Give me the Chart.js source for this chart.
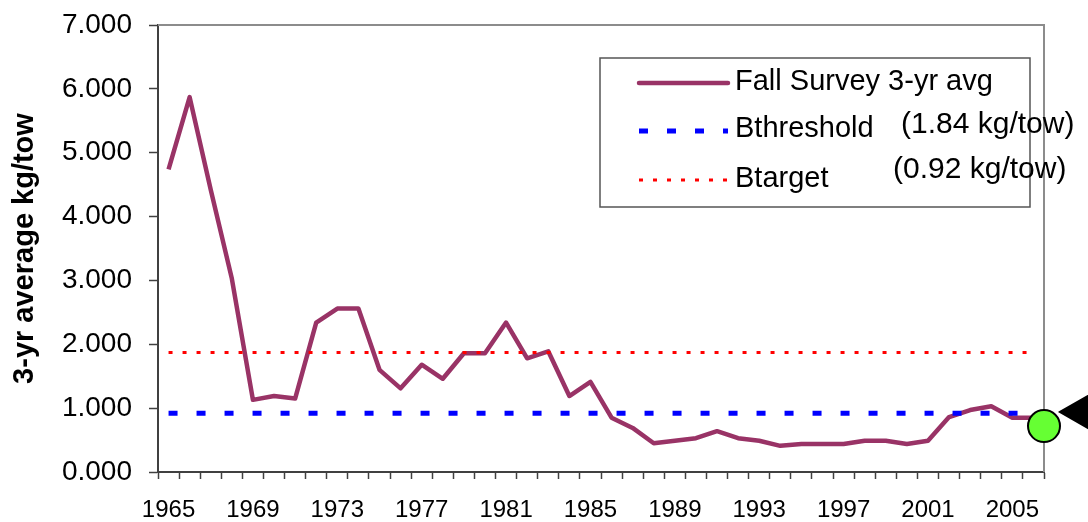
<!DOCTYPE html>
<html>
<head>
<meta charset="utf-8">
<script src="https://cdn.jsdelivr.net/npm/chart.js@4/dist/chart.umd.min.js"></script>
<style>
    html, body { margin: 0; padding: 0; background: #ffffff; }
    #wrap { position: relative; width: 1088px; height: 522px; }
</style>
</head>
<body>
<div id="wrap"><canvas id="surveyChart"></canvas></div>
<script>
const years = [
    "1965", "1966", "1967", "1968", "1969", "1970", "1971", "1972", "1973", "1974",
    "1975", "1976", "1977", "1978", "1979", "1980", "1981", "1982", "1983", "1984",
    "1985", "1986", "1987", "1988", "1989", "1990", "1991", "1992", "1993", "1994",
    "1995", "1996", "1997", "1998", "1999", "2000", "2001", "2002", "2003", "2004",
    "2005", "2006"
];

const fallSurveyAvg = [
    4.74, 5.87, 4.42, 3.03, 1.13, 1.19, 1.15, 2.34, 2.56, 2.56,
    1.60, 1.31, 1.68, 1.46, 1.86, 1.86, 2.34, 1.78, 1.89, 1.19,
    1.41, 0.85, 0.69, 0.45, 0.49, 0.53, 0.64, 0.53, 0.49, 0.41,
    0.44, 0.44, 0.44, 0.49, 0.49, 0.44, 0.49, 0.86, 0.97, 1.03,
    0.85, 0.85
];

// reference levels as drawn in the plot
const redLevel = 1.87;
const blueLevel = 0.92;

// end-of-series markers (year position, value)
const currentPoint = [{ x: 2006.5, y: 0.72 }];
const arrowPoint = [{ x: 2008.3, y: 0.94 }];

const yTicks = [0, 1, 2, 3, 4, 5, 6, 7];

const legendLabels = ["Fall Survey 3-yr avg", "Bthreshold", "Btarget"];
const legendNotes = ["", "(1.84 kg/tow)", "(0.92 kg/tow)"];

const fontFamily = "'Liberation Sans', Arial, sans-serif";

Chart.defaults.color = "#000000";
Chart.defaults.font.family = fontFamily;

// gray frame on the top and right of the plot area
const plotFrame = {
    id: "plotFrame",
    beforeDatasetsDraw(chart) {
        const { ctx, chartArea: a } = chart;
        ctx.save();
        ctx.strokeStyle = "#8c8c8c";
        ctx.lineWidth = 2;
        ctx.beginPath();
        ctx.moveTo(a.left, a.top);
        ctx.lineTo(a.right, a.top);
        ctx.lineTo(a.right, a.bottom);
        ctx.stroke();
        ctx.restore();
    }
};

// the arrow sits outside the plot area, where Chart.js skips points,
// so draw its element ourselves at the position the scales gave it
const outsideMarker = {
    id: "outsideMarker",
    afterDatasetsDraw(chart) {
        const meta = chart.getDatasetMeta(4);
        const ds = chart.data.datasets[4];
        const ctx = chart.ctx;
        ctx.save();
        ctx.fillStyle = ds.pointBackgroundColor;
        ctx.strokeStyle = ds.pointBorderColor;
        meta.data.forEach(pt => {
            Chart.helpers.drawPoint(ctx, {
                pointStyle: ds.pointStyle,
                rotation: ds.pointRotation,
                radius: ds.pointRadius,
                borderWidth: ds.pointBorderWidth
            }, pt.x, pt.y);
        });
        ctx.restore();
    }
};

// boxed legend inside the plot
const boxLegend = {
    id: "boxLegend",
    afterDatasetsDraw(chart) {
        const ctx = chart.ctx;
        const box = { x: 600, y: 58, w: 430, h: 149 };
        const rows = [
            { ds: 0, lineY: 83, textY: 90, noteX: 0, noteY: 0 },
            { ds: 1, lineY: 131, textY: 137, noteX: 901, noteY: 133 },
            { ds: 2, lineY: 180, textY: 187, noteX: 893, noteY: 178 }
        ];

        ctx.save();
        ctx.fillStyle = "#ffffff";
        ctx.fillRect(box.x, box.y, box.w, box.h);
        ctx.strokeStyle = "#555555";
        ctx.lineWidth = 1.5;
        ctx.strokeRect(box.x, box.y, box.w, box.h);

        rows.forEach((row, i) => {
            const ds = chart.data.datasets[row.ds];
            ctx.beginPath();
            ctx.strokeStyle = ds.borderColor;
            ctx.lineWidth = ds.borderWidth;
            ctx.lineCap = ds.borderDash ? "butt" : "round";
            ctx.setLineDash(ds.borderDash || []);
            ctx.moveTo(639, row.lineY);
            ctx.lineTo(728, row.lineY);
            ctx.stroke();
            ctx.setLineDash([]);

            ctx.fillStyle = "#000000";
            ctx.textBaseline = "alphabetic";
            ctx.textAlign = "left";
            ctx.font = "29px " + fontFamily;
            ctx.fillText(legendLabels[i], 735, row.textY);
            if (legendNotes[i]) {
                ctx.font = "30px " + fontFamily;
                ctx.fillText(legendNotes[i], row.noteX, row.noteY);
            }
        });
        ctx.restore();
    }
};

function tickFont(size) {
    return { family: fontFamily, size: size };
}

function renderSurveyChart() {
    const canvas = document.getElementById("surveyChart");
    if (!canvas) return;

    const first = years[0];
    const last = years[years.length - 1];

    new Chart(canvas, {
        type: "line",
        data: {
            labels: years,
            datasets: [{
                label: "Fall Survey 3-yr avg",
                data: fallSurveyAvg,
                borderColor: "#993366",
                borderWidth: 4.5,
                borderJoinStyle: "round",
                tension: 0,
                pointRadius: 0,
                fill: false,
                order: 4
            }, {
                label: "Bthreshold",
                data: [{ x: first, y: blueLevel }, { x: last, y: blueLevel }],
                borderColor: "#0000ff",
                borderWidth: 5,
                borderDash: [9, 19],
                pointRadius: 0,
                fill: false,
                order: 3
            }, {
                label: "Btarget",
                data: [{ x: first, y: redLevel }, { x: last, y: redLevel }],
                borderColor: "#ff0000",
                borderWidth: 3,
                borderDash: [4, 10],
                pointRadius: 0,
                fill: false,
                order: 2
            }, {
                label: "current",
                data: currentPoint,
                xAxisID: "x2",
                showLine: false,
                pointStyle: "circle",
                pointRadius: 16,
                pointBackgroundColor: "#66ff33",
                pointBorderColor: "#000000",
                pointBorderWidth: 2,
                clip: false,
                order: 1
            }, {
                label: "arrow",
                data: arrowPoint,
                xAxisID: "x2",
                showLine: false,
                pointStyle: "triangle",
                pointRotation: -90,
                pointRadius: 22,
                pointBackgroundColor: "#000000",
                pointBorderColor: "#000000",
                pointBorderWidth: 1,
                clip: false,
                order: 0
            }]
        },
        options: {
            responsive: true,
            maintainAspectRatio: false,
            animation: false,
            events: [],
            layout: {
                padding: { top: 25, right: 44, left: 0, bottom: 0 }
            },
            plugins: {
                legend: { display: false },
                tooltip: { enabled: false }
            },
            scales: {
                x: {
                    type: "category",
                    offset: true,
                    grid: {
                        offset: true,
                        drawOnChartArea: false,
                        drawTicks: true,
                        tickLength: 7,
                        color: "#404040",
                        tickWidth: 1.5
                    },
                    border: { display: true, color: "#404040", width: 2 },
                    ticks: {
                        autoSkip: false,
                        maxRotation: 0,
                        padding: 17,
                        color: "#000000",
                        font: tickFont(24),
                        callback: function(value, index) {
                            return index % 4 === 0 ? years[index] : "";
                        }
                    },
                    afterFit: function(scale) {
                        scale.height = 50;
                        scale.paddingLeft = 0;
                        scale.paddingRight = 0;
                    }
                },
                x2: {
                    type: "linear",
                    display: false,
                    min: 1964.5,
                    max: 2006.5
                },
                y: {
                    min: yTicks[0],
                    max: yTicks[yTicks.length - 1],
                    afterBuildTicks: function(scale) {
                        scale.ticks = yTicks.map(v => ({ value: v }));
                    },
                    grid: {
                        drawOnChartArea: false,
                        drawTicks: true,
                        tickLength: 9,
                        color: "#404040",
                        tickWidth: 1.5
                    },
                    border: { display: true, color: "#404040", width: 2 },
                    ticks: {
                        padding: 17,
                        color: "#000000",
                        font: tickFont(28),
                        callback: function(value) {
                            return Number(value).toFixed(3);
                        }
                    },
                    title: {
                        display: true,
                        text: "3-yr average kg/tow",
                        color: "#000000",
                        font: { family: fontFamily, size: 29, weight: "bold" },
                        padding: { top: 8, bottom: 0 }
                    },
                    afterFit: function(scale) {
                        scale.width = 158;
                        scale.paddingTop = 0;
                        scale.paddingBottom = 0;
                    }
                }
            }
        },
        plugins: [plotFrame, outsideMarker, boxLegend]
    });
}

window.addEventListener("DOMContentLoaded", () => {
    renderSurveyChart();
});
</script>
</body>
</html>
